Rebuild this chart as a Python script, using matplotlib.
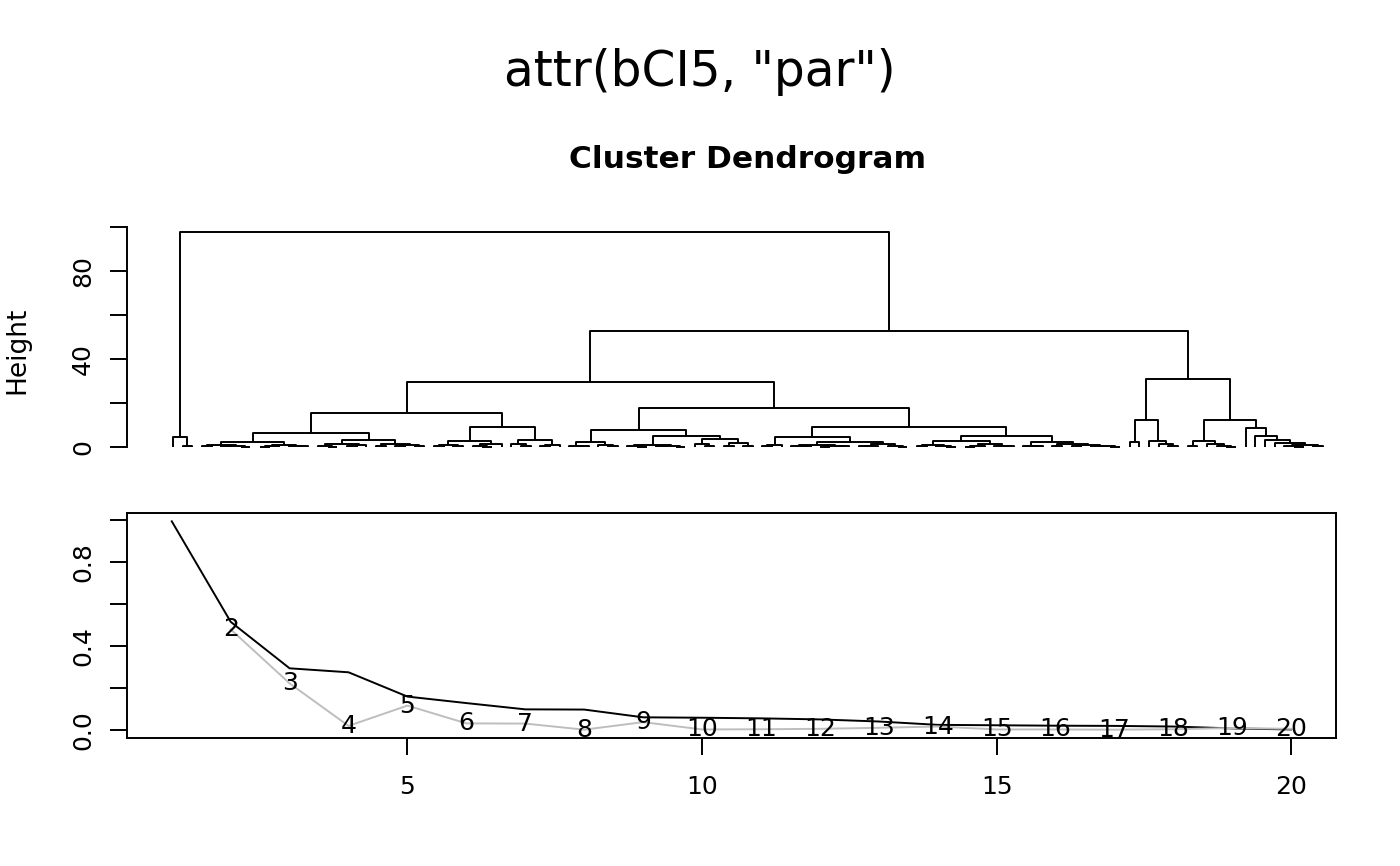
import matplotlib
matplotlib.use("Agg")
import matplotlib.pyplot as plt
from matplotlib.collections import LineCollection

# ---- dendrogram data: a leaf is 0, a merge is (height, left, right) ----
root_left = (4.7, 0, (0.4, 0, 0))

# left big branch (A1)
p1 = (0.9, (0.4, 0, 0), (0.6, (0.3, 0, 0), (0.2, 0, 0)))
p2 = (1.1, (0.5, (0.2, 0, 0), 0), (0.7, 0, (0.3, 0, 0)))
p3 = (1.2, (0.6, 0, (0.2, 0, 0)), (0.8, (0.3, 0, 0), 0))
p4 = (1.4, (0.5, 0, 0), (0.9, (0.4, 0, 0), (0.3, 0, 0)))
p5 = (2.7, (1.0, (0.4, 0, 0), (0.3, 0, 0)), (1.5, (0.6, 0, (0.2, 0, 0)), 0))
p6 = (3.0, (1.2, 0, (0.4, 0, 0)), (0.9, (0.3, 0, 0), 0))
a1 = (15.5, (6.4, (2.3, p1, p2), (3.2, p3, p4)), (9.0, p5, p6))

# middle branch (A2)
q1 = (2.4, (0.5, 0, (0.3, 0, 0)), (0.8, 0, (0.4, 0, 0)))
q2a = (1.0, (0.4, 0, (0.2, 0, 0)), (0.6, (0.3, 0, 0), (0.2, 0, 0)))
q2b = (3.5, (1.6, 0, (0.5, 0, 0)), (2.0, (0.4, 0, 0), (0.6, 0, 0)))
r1a = (0.8, (0.3, 0, 0), 0)
r1b = (2.2, (1.1, (0.5, 0, (0.3, 0, 0)), (0.6, (0.2, 0, 0), (0.4, 0, 0))),
       (1.3, (0.6, (0.3, 0, 0), 0), (0.4, 0, (0.2, 0, 0))))
r2a = (2.7, (0.9, (0.3, 0, 0), (0.5, 0, (0.2, 0, 0))),
       (1.2, (0.4, (0.2, 0, 0), 0), (0.6, 0, (0.3, 0, 0))))
r2b = (2.5, (0.7, 0, (0.3, 0, 0)),
       (1.4, (0.5, 0, 0), (1.0, (0.3, 0, 0), (0.6, 0, (0.4, 0, (0.2, 0, 0))))))
a2 = (17.7, (7.7, q1, (5.0, q2a, q2b)), (9.1, (4.5, r1a, r1b), (5.0, r2a, r2b)))

# right branch (B)
b1 = (12.4, (2.1, 0, 0), (2.7, 0, (1.6, 0, (0.6, 0, 0))))
b2 = (12.4, (2.7, (0.6, 0, 0), (1.2, 0, (0.5, 0, (0.2, 0, 0)))),
      (8.5, 0, (5.0, 0, (3.2, 0, (1.7, 0, (0.8, (0.3, 0, (0.1, 0, 0)), (0.4, 0, 0)))))))

tree = (97.7, root_left, (52.7, (29.5, a1, a2), (31.0, b1, b2)))

# ---- lower panel data ----
k = list(range(1, 21))
crit = [0.996, 0.516, 0.294, 0.275, 0.159, 0.128, 0.098, 0.097, 0.060, 0.058,
        0.055, 0.050, 0.040, 0.024, 0.022, 0.020, 0.019, 0.016, 0.007, 0.002]
k_diff = list(range(2, 21))
diff = [0.480, 0.222, 0.019, 0.116, 0.031, 0.030, 0.001, 0.037, 0.002, 0.003,
        0.005, 0.010, 0.016, 0.002, 0.002, 0.001, 0.003, 0.009, 0.005]


def layout(node, count, segs):
    if not isinstance(node, tuple):
        count[0] += 1
        return count[0], 0.0
    h, left, right = node
    xl, hl = layout(left, count, segs)
    xr, hr = layout(right, count, segs)
    segs.append([(xl, hl), (xl, h), (xr, h), (xr, hr)])
    return (xl + xr) / 2, h


segs = []
count = [0]
layout(tree, count, segs)
n = count[0]
hmax = tree[0]

W, H = 1400, 866
fig = plt.figure(figsize=(14, 8.66), dpi=100)
lw = 1.4

# top: dendrogram
ax1 = fig.add_axes([127 / W, 1 - 478 / H, 1242 / W, 255.4 / H])
ax1.add_collection(LineCollection(segs, colors="black", linewidths=lw))
ax1.set_xlim(1 - 0.04 * (n - 1), n + 0.04 * (n - 1))
lo = -0.1 * hmax
rng = hmax - lo
ax1.set_ylim(lo - 0.04 * rng, hmax + 0.04 * rng)
for s in ["top", "right", "bottom"]:
    ax1.spines[s].set_visible(False)
ax1.spines["left"].set_bounds(0, 100)
ax1.spines["left"].set_linewidth(lw)
ax1.set_xticks([])
ax1.set_yticks([0, 20, 40, 60, 80, 100])
ax1.set_yticklabels(["0", "", "40", "", "80", ""], rotation=90, va="center")
ax1.tick_params(axis="y", direction="out", length=12, width=lw, labelsize=18, pad=11)

# bottom: criterion plot
ax2 = fig.add_axes([127 / W, 1 - 738 / H, 1209 / W, 225 / H])
ax2.plot(k, crit, color="black", lw=lw)
ax2.plot(k_diff, diff, color="#BEBEBE", lw=lw)
for kk, d in zip(k_diff, diff):
    ax2.text(kk, d, str(kk), ha="center", va="center", fontsize=18)
ax2.set_xlim(1 - 0.04 * 19, 20 + 0.04 * 19)
ylo, yhi = min(diff), max(crit)
yr = yhi - ylo
ax2.set_ylim(ylo - 0.04 * yr, yhi + 0.04 * yr)
for s in ax2.spines.values():
    s.set_linewidth(lw)
ax2.set_xticks([5, 10, 15, 20])
ax2.set_yticks([0.0, 0.2, 0.4, 0.6, 0.8, 1.0])
ax2.set_yticklabels(["0.0", "", "0.4", "", "0.8", ""], rotation=90, va="center")
ax2.tick_params(axis="both", direction="out", length=12, width=lw, labelsize=18)
ax2.tick_params(axis="y", pad=11)
ax2.tick_params(axis="x", pad=15)

# titles
fig.text(700 / W, 1 - 72 / H, 'attr(bCI5, "par")', ha="center", va="center", fontsize=35)
fig.text(748 / W, 1 - 160 / H, "Cluster Dendrogram", ha="center", va="center",
         fontsize=22.5, fontweight="bold")
fig.text(17 / W, 1 - 350 / H, "Height", ha="center", va="center", rotation=90, fontsize=19)

fig.savefig("out.png", dpi=100)
